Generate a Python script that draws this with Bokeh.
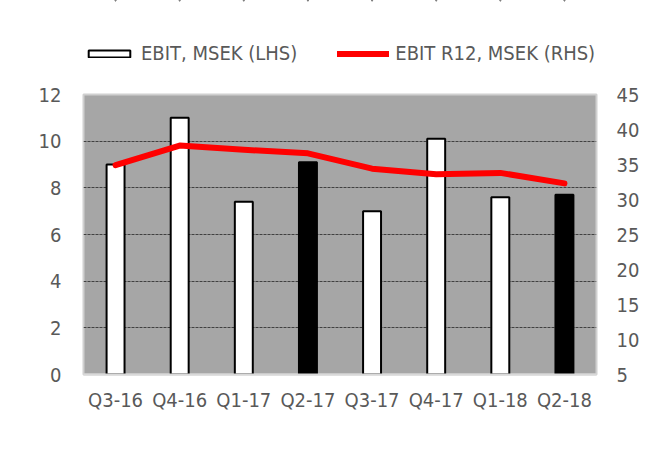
from bokeh.plotting import figure
from bokeh.models import (FactorRange, Range1d, LinearAxis, FixedTicker, Legend,
                          LegendItem, ColumnDataSource)
from bokeh.layouts import column
from bokeh.embed import file_html
from bokeh.resources import INLINE

categories = ["Q3-16", "Q4-16", "Q1-17", "Q2-17", "Q3-17", "Q4-17", "Q1-18", "Q2-18"]
ebit = [9.0, 11.0, 7.4, 9.1, 7.0, 10.1, 7.6, 7.7]
ebit_r12 = [34.9, 37.7, 37.1, 36.6, 34.4, 33.6, 33.8, 32.3]
left_ticks = [0, 2, 4, 6, 8, 10, 12]
right_ticks = [5, 10, 15, 20, 25, 30, 35, 40, 45]
series_names = ["EBIT, MSEK (LHS)", "EBIT R12, MSEK (RHS)"]

FONT = "DejaVu Sans Condensed"
TXT = "#595959"
W = 642
TOP_H = 80

colors = ["black" if c.startswith("Q2") else "white" for c in categories]
src = ColumnDataSource(dict(x=categories, y=ebit, c=colors))

# ---- legend strip (separate figure above the chart; its marks lie outside its view) ----
lg = figure(width=W, height=TOP_H, x_range=FactorRange(*categories, range_padding=0),
            y_range=Range1d(-101, -100), x_axis_type=None, y_axis_type=None,
            output_backend="svg", toolbar_location=None,
            min_border_left=83, min_border_right=39, min_border_top=0, min_border_bottom=0)
lg.outline_line_color = None
lg.grid.visible = False
lg_bar = lg.vbar(x="x", top="y", width=0.001, source=src, fill_color="c",
                 line_color="black", line_width=2)
lg_line = lg.line(x=categories, y=ebit_r12, line_color="red", line_width=6, line_cap="round")
legend = Legend(items=[LegendItem(label=series_names[0], renderers=[lg_bar], index=0),
                       LegendItem(label=series_names[1], renderers=[lg_line])],
                orientation="horizontal", location=(0, 15),
                glyph_width=52, glyph_height=9, label_standoff=6, spacing=40,
                padding=0, margin=0, border_line_color=None, background_fill_alpha=0,
                label_text_font=FONT, label_text_font_size="20px", label_text_color=TXT)
lg.add_layout(legend, "center")

# ---- main chart ----
p = figure(width=W, height=452 - TOP_H, x_range=FactorRange(*categories, range_padding=0),
           y_range=Range1d(0, 12), output_backend="svg", toolbar_location=None,
           min_border_left=83, min_border_right=39, min_border_top=14, min_border_bottom=78)
p.extra_y_ranges = {"r": Range1d(5, 45)}

p.background_fill_color = "#a6a6a6"
p.border_fill_color = "white"
p.outline_line_color = "#d0d0d0"
p.outline_line_width = 2

p.xgrid.visible = False
p.ygrid.ticker = FixedTicker(ticks=left_ticks)
p.ygrid.grid_line_color = "#404040"
p.ygrid.grid_line_dash = "3 1"
p.ygrid.grid_line_width = 1

p.vbar(x="x", top="y", width=0.28, source=src, fill_color="c",
       line_color="black", line_width=2)
p.line(x=categories, y=ebit_r12, y_range_name="r", line_color="red",
       line_width=6, line_cap="round", line_join="round")

ax_r = LinearAxis(y_range_name="r", ticker=FixedTicker(ticks=right_ticks))
p.add_layout(ax_r, "right")

for ax in [p.yaxis[0], ax_r]:
    ax.axis_line_color = None
    ax.major_tick_line_color = None
    ax.minor_tick_line_color = None
    ax.major_label_text_font = FONT
    ax.major_label_text_font_size = "20px"
    ax.major_label_text_color = TXT
    ax.major_label_standoff = 16
ax_r.major_label_standoff = 14
p.yaxis[0].ticker = FixedTicker(ticks=left_ticks)

xa = p.xaxis[0]
xa.axis_line_color = "#d9d9d9"
xa.axis_line_width = 2
xa.major_tick_line_color = None
xa.minor_tick_line_color = None
xa.major_label_text_font = FONT
xa.major_label_text_font_size = "20px"
xa.major_label_text_color = TXT
xa.major_label_standoff = 7

layout = column(lg, p, spacing=0)
open("out.html", "w").write(file_html(layout, INLINE))
